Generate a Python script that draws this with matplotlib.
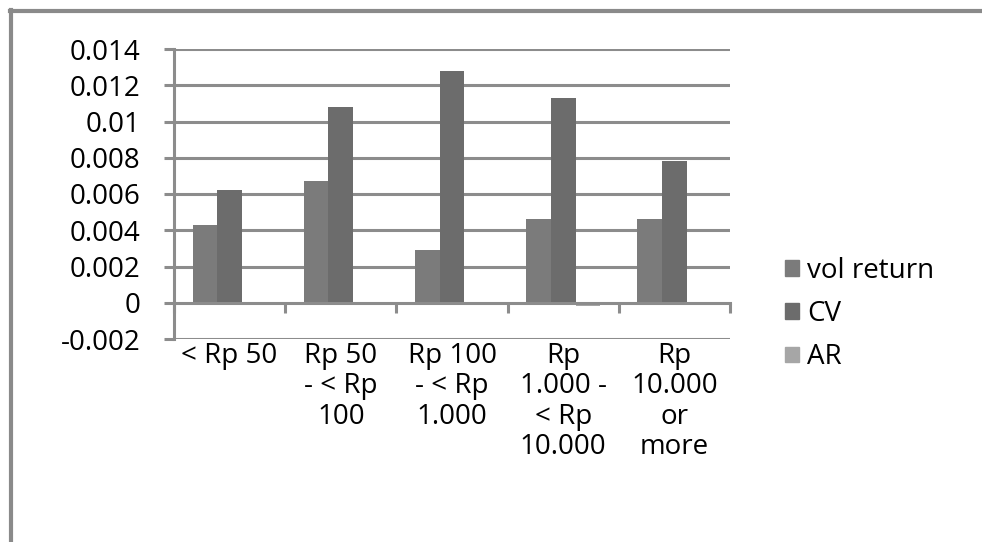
import numpy as np
import matplotlib.pyplot as plt
from matplotlib.lines import Line2D
from matplotlib.patches import Patch

plt.rcParams['font.family'] = ['Open Sans', 'DejaVu Sans']

# Chart data
categories = ['< Rp 50', 'Rp 50\n- < Rp\n100', 'Rp 100\n- < Rp\n1.000',
              'Rp\n1.000 -\n< Rp\n10.000', 'Rp\n10.000\nor\nmore']
vol_return = [0.0043, 0.0067, 0.0029, 0.0046, 0.0046]
cv = [0.0062, 0.0108, 0.0128, 0.0113, 0.0078]
ar = [0.0, 0.0, 0.0, -0.0002, 0.0]
series_names = ['vol return', 'CV', 'AR']
y_ticks = [-0.002, 0, 0.002, 0.004, 0.006, 0.008, 0.01, 0.012, 0.014]
y_labels = ['-0.002', '0', '0.002', '0.004', '0.006', '0.008', '0.01', '0.012', '0.014']

colors = ['#7b7b7b', '#6c6c6c', '#a6a6a6']
grid_col = '#8c8c8c'
fs = 20

fig = plt.figure(figsize=(9.82, 5.42), dpi=100)
ax = fig.add_axes([174/982, 1 - 339/542, (730 - 174)/982, (339 - 49)/542])

x = np.arange(len(categories))
w = 1 / 4.5
for i, vals in enumerate([vol_return, cv, ar]):
    ax.bar(x + (i - 1) * w, vals, width=w, color=colors[i], zorder=3,
           label=series_names[i])

ax.set_xlim(-0.5, len(categories) - 0.5)
ax.set_ylim(-0.002, 0.014)
ax.set_yticks(y_ticks)
ax.set_yticklabels(y_labels, fontsize=fs)
for t in y_ticks:
    if t != 0:
        ax.axhline(t, color=grid_col, lw=2.2, zorder=1)

for s in ['top', 'right']:
    ax.spines[s].set_visible(False)
ax.spines['left'].set_color(grid_col)
ax.spines['left'].set_linewidth(2.2)
ax.spines['bottom'].set_position(('data', 0))
ax.spines['bottom'].set_color(grid_col)
ax.spines['bottom'].set_linewidth(2.2)
ax.spines['bottom'].set_zorder(4)

ax.tick_params(axis='y', direction='out', length=7, width=2.2, color=grid_col, pad=17)
ax.set_xticks(np.arange(len(categories) + 1) - 0.5)
ax.set_xticklabels([])
ax.tick_params(axis='x', which='major', direction='out', length=7, width=2.2, color=grid_col)
ax.set_xticks(x, minor=True)
ax.set_xticklabels(categories, minor=True, fontsize=fs, linespacing=1.12)
ax.tick_params(axis='x', which='minor', length=0, pad=28)

handles = [Patch(color=c) for c in colors]
fig.legend(handles, series_names, loc='center left', bbox_to_anchor=(760/982, 1 - 314/542),
           frameon=False, fontsize=fs, handlelength=0.5, handleheight=0.5,
           handletextpad=0.3, labelspacing=0.55)

# outer chart frame (top and left edges visible)
fig.add_artist(Line2D([10/982, 1], [1 - 11/542, 1 - 11/542], color='#8a8a8a', lw=3))
fig.add_artist(Line2D([11/982, 11/982], [0, 1 - 10/542], color='#8a8a8a', lw=3))

fig.savefig('out.png', dpi=100)
